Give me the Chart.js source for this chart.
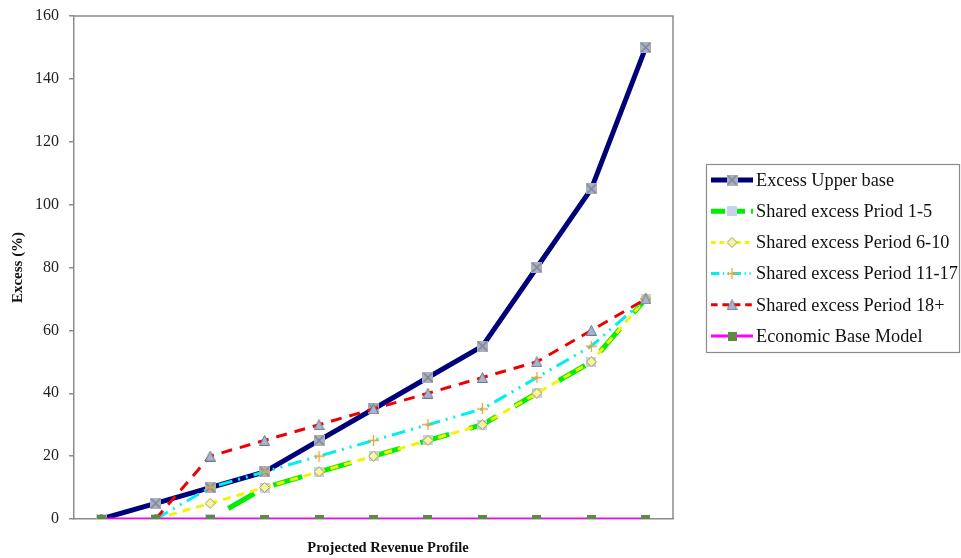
<!DOCTYPE html>
<html><head><meta charset="utf-8">
<script src="https://cdn.jsdelivr.net/npm/chart.js@4/dist/chart.umd.min.js"></script>
<style>html,body{margin:0;padding:0;background:#fff}#wrap{width:961px;height:558px}</style>
</head><body><div id="wrap"><canvas id="c" width="961" height="558"></canvas></div>
<script>
const categories = ['1','2','3','4','5','6','7','8','9','10','11'];
const upperBase   = [0,5,10,15,25,35,45,55,80,105,150];
const period1to5  = [0,0,0,10,15,20,25,30,40,50,70];
const period6to10 = [0,0,5,10,15,20,25,30,40,50,70];
const period11to17= [0,0,10,15,20,25,30,35,45,55,70];
const period18plus= [0,0,20,25,30,35,40,45,50,60,70];
const economicBase= [0,0,0,0,0,0,0,0,0,0,0];
const seriesNames = ['Excess Upper base','Shared excess Priod 1-5','Shared excess Period 6-10','Shared excess Period 11-17','Shared excess Period 18+','Economic Base Model'];
const yTicks = [0,20,40,60,80,100,120,140,160];
const xTitle = 'Projected Revenue Profile';
const yTitle = 'Excess (%)';

function mk(size, draw){const c=document.createElement('canvas');c.width=size;c.height=size;const g=c.getContext('2d');draw(g,size);return c;}
const mUpper = mk(11,(g,s)=>{g.fillStyle='#aab0c0';g.fillRect(0,0,s,s);g.strokeStyle='#7a8090';g.lineWidth=1.3;g.beginPath();g.moveTo(1,1);g.lineTo(s-1,s-1);g.moveTo(s-1,1);g.lineTo(1,s-1);g.stroke();});
const mP15 = mk(10,(g,s)=>{g.fillStyle='#c4d2ea';g.fillRect(0,0,s,s);});
const mP610 = mk(11,(g,s)=>{g.fillStyle='#f8f4a0';g.strokeStyle='#a09860';g.lineWidth=1;g.beginPath();g.moveTo(s/2,0.5);g.lineTo(s-0.5,s/2);g.lineTo(s/2,s-0.5);g.lineTo(0.5,s/2);g.closePath();g.fill();g.stroke();});
const mP1117 = mk(11,(g,s)=>{g.strokeStyle='#f0a030';g.lineWidth=1.3;g.beginPath();g.moveTo(s/2,0);g.lineTo(s/2,s);g.moveTo(0,s/2);g.lineTo(s,s/2);g.stroke();});
const mP18 = mk(11,(g,s)=>{g.fillStyle='#a8b4cc';g.strokeStyle='#6a7890';g.lineWidth=1;g.beginPath();g.moveTo(s/2,0.5);g.lineTo(s-0.5,s-0.5);g.lineTo(0.5,s-0.5);g.closePath();g.fill();g.stroke();});
const mEco = mk(9,(g,s)=>{g.fillStyle='#5e8a44';g.fillRect(0,0,s,s);});

const styles = [
  {color:'#00007a', width:5, dash:[], off:0, marker:mUpper},
  {color:'#00ee00', width:5, dash:[30,21], off:30, marker:mP15},
  {color:'#f4f400', width:3, dash:[8,6], off:0, marker:mP610},
  {color:'#00f0f0', width:3, dash:[14,6,2,6,2,6], off:0, marker:mP1117},
  {color:'#ee0000', width:3, dash:[11,8], off:0, marker:mP18},
  {color:'#ff00ff', width:3, dash:[], off:0, marker:mEco}
];
const values = [upperBase, period1to5, period6to10, period11to17, period18plus, economicBase];

const datasets = values.map((v,i)=>({
  label: seriesNames[i], data: v,
  borderColor: styles[i].color, backgroundColor: styles[i].color,
  borderWidth: styles[i].width, borderDash: styles[i].dash, borderDashOffset: styles[i].off,
  pointStyle: styles[i].marker, pointRadius: 5, pointHoverRadius: 5,
  tension: 0, order: 5 - i, fill: false,
  segment: i < 5 ? {borderColor: c => (c.p0.parsed.y === 0 && c.p1.parsed.y === 0) ? 'rgba(0,0,0,0)' : undefined} : undefined
}));

const SERIF = '"Liberation Serif", "Times New Roman", serif';
const framePlugin = {
  id:'frame',
  beforeDatasetsDraw(chart){
    const {ctx, chartArea:a} = chart;
    ctx.save(); ctx.strokeStyle='#8c8c8c'; ctx.lineWidth=1.5;
    ctx.beginPath(); ctx.moveTo(a.left, a.top); ctx.lineTo(a.right, a.top); ctx.lineTo(a.right, a.bottom); ctx.stroke();
    ctx.restore();
  },
  afterDraw(chart){
    const ctx = chart.ctx;
    ctx.save();
    ctx.font = 'bold 14.5px ' + SERIF; ctx.fillStyle='#111'; ctx.textAlign='center'; ctx.textBaseline='middle';
    ctx.fillText(xTitle, 388, 548);
    ctx.textAlign='left';
    const bx=706, by=164, bw=254, bh=189;
    ctx.fillStyle='#fff'; ctx.fillRect(bx,by,bw,bh);
    ctx.strokeStyle='#8c8c8c'; ctx.lineWidth=1.2; ctx.strokeRect(bx+0.5,by+0.5,bw-1,bh-1);
    ctx.font='18.3px ' + SERIF;
    chart.data.datasets.forEach((ds,i)=>{
      const y = 180 + i*31.2;
      ctx.save();
      ctx.strokeStyle = ds.borderColor; ctx.lineWidth = ds.borderWidth;
      ctx.setLineDash(i===1 ? [14,6] : (ds.borderDash.length? ds.borderDash.map(d=>d*0.6):[]));
      ctx.beginPath(); ctx.moveTo(711,y); ctx.lineTo(753,y); ctx.stroke();
      ctx.restore();
      const img = ds.pointStyle;
      ctx.drawImage(img, 732 - img.width/2, y - img.height/2);
      ctx.fillStyle='#111';
      ctx.fillText(ds.label, 756, y+1);
    });
    ctx.restore();
  }
};

new Chart(document.getElementById('c'), {
  type:'line',
  data:{labels:categories, datasets},
  options:{
    responsive:false, animation:false, devicePixelRatio:1,
    layout:{padding:{left:0, right:288, top:16, bottom:0}},
    plugins:{legend:{display:false}, tooltip:{enabled:false}},
    scales:{
      x:{
        type:'category', offset:true,
        grid:{display:false, drawTicks:false},
        border:{display:true, color:'#8c8c8c', width:1.5},
        ticks:{display:false},
        title:{display:false},
        afterFit(s){ s.height = 39; s.paddingLeft = 0; s.paddingRight = 0; }
      },
      y:{
        min:0, max:160,
        afterBuildTicks(s){ s.ticks = yTicks.map(v=>({value:v})); },
        grid:{drawOnChartArea:false, drawTicks:true, tickLength:5, color:'#8c8c8c', lineWidth:1.5},
        border:{display:true, color:'#8c8c8c', width:1.5},
        ticks:{color:'#222', padding:10, font:{family:SERIF, size:16}},
        title:{display:true, text:yTitle, color:'#111',
          font:{family:SERIF, size:15, weight:'bold'}, padding:{top:9,bottom:0}},
        afterFit(s){ s.width = 74; s.paddingTop = 0; s.paddingBottom = 0; }
      }
    }
  },
  plugins:[framePlugin]
});
</script></body></html>
